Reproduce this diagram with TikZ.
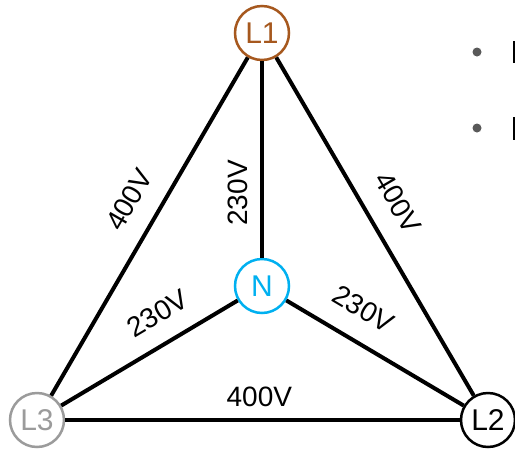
\documentclass[tikz,border=0pt]{standalone}
\usepackage{fontspec}
\setmainfont{Liberation Sans}
\definecolor{phaseone}{RGB}{166,88,30}
\definecolor{neutral}{RGB}{0,176,240}
\definecolor{phasethree}{RGB}{155,155,155}
\definecolor{bulletgray}{RGB}{89,89,89}
\tikzset{
  terminal/.style={circle,draw,line width=2.5pt,minimum size=54pt,inner sep=0pt,fill=white,
    font=\fontsize{30}{30}\selectfont},
  wire/.style={line width=4pt,black},
  volt/.style={sloped,inner sep=0pt,font=\fontsize{28}{28}\selectfont}
}
\begin{document}
\begin{tikzpicture}[x=1pt,y=-1pt]
\useasboundingbox (0,0) rectangle (515,451);
\node[terminal,draw=phaseone,text=phaseone] (L1) at (262,33) {L1};
\node[terminal,draw=neutral,text=neutral] (N) at (262,286) {N};
\node[terminal,draw=phasethree,text=phasethree] (L3) at (37,420) {L3};
\node[terminal,draw=black,text=black] (L2) at (488,420) {L2};
\draw[wire] (L3) -- node[volt,pos=0.533,above=19pt] {400V} (L1);
\draw[wire] (L1) -- node[volt,pos=0.477,above=20pt] {400V} (L2);
\draw[wire] (N) -- node[volt,pos=0.33,above=12pt] {230V} (L1);
\draw[wire] (L3) -- node[volt,pos=0.632,above=18pt] {230V} (N);
\draw[wire] (N) -- node[volt,pos=0.344,above=20pt] {230V} (L2);
\draw[wire] (L3) -- node[volt,pos=0.492,above=11pt] {400V} (L2);
\fill[bulletgray] (477,52) circle (4.5pt);
\fill[bulletgray] (477,128) circle (4.5pt);
\fill[black] (512.7,41) rectangle (515,63);
\fill[black] (512.7,117) rectangle (515,140);
\end{tikzpicture}
\end{document}
